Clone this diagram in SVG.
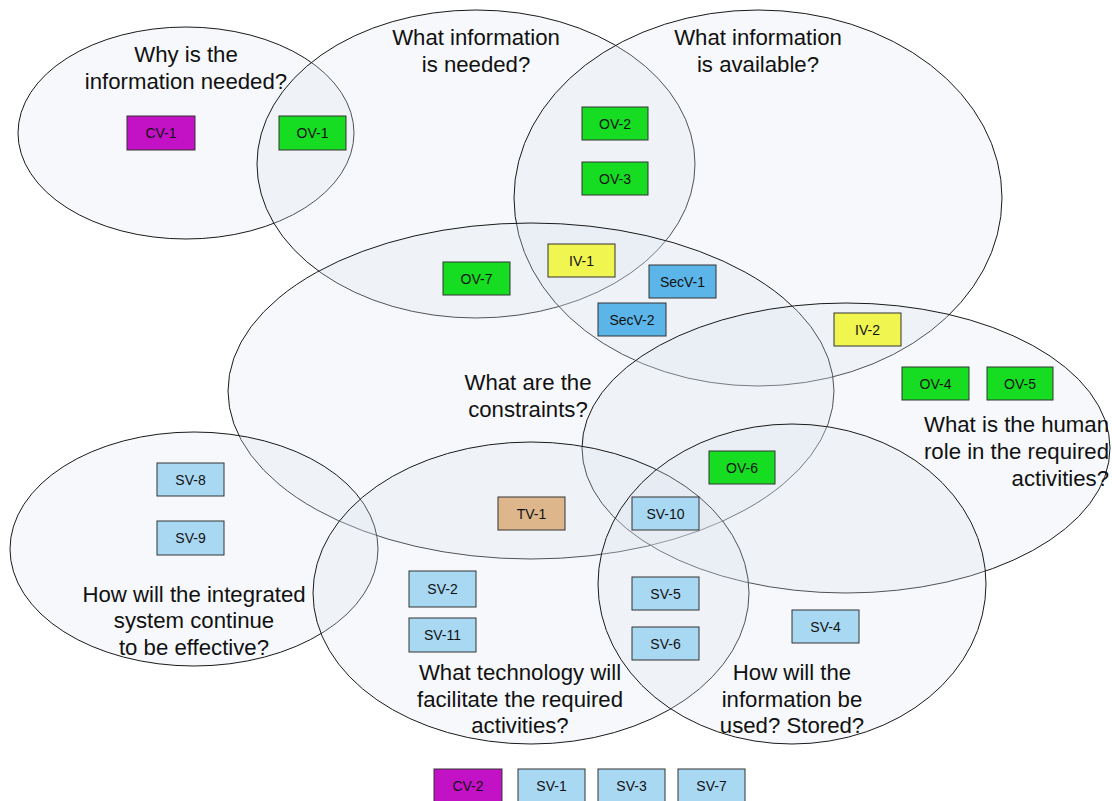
<svg xmlns="http://www.w3.org/2000/svg" width="1112" height="801" viewBox="0 0 1112 801">
<style>
.el{fill:#dfe5f2;fill-opacity:0.28;stroke:#1a1a1a;stroke-width:1}
.q{font-family:"Liberation Sans",Arial,sans-serif;font-size:22.2px;fill:#111;text-anchor:middle}
.qr{text-anchor:end}
.b rect{stroke:#333;stroke-width:1}
.b text{font-family:"Liberation Sans",Arial,sans-serif;font-size:14px;fill:#111;text-anchor:middle}
.cv{fill:#c312c6}
.ov{fill:#16dc22}
.iv{fill:#f0f550}
.sec{fill:#5cb5e8}
.sv{fill:#a9d8f2}
.tv{fill:#ddb68c}
</style>
<rect width="1112" height="801" fill="#fff"/>
<g id="sets">
<ellipse class="el" cx="186" cy="133" rx="168" ry="106"/>
<ellipse class="el" cx="476" cy="164" rx="219" ry="154"/>
<ellipse class="el" cx="758" cy="198" rx="244" ry="188"/>
<ellipse class="el" cx="531" cy="391" rx="303" ry="168"/>
<ellipse class="el" cx="846" cy="448" rx="264" ry="145"/>
<ellipse class="el" cx="194" cy="549" rx="184" ry="117"/>
<ellipse class="el" cx="531" cy="593" rx="218" ry="151"/>
<ellipse class="el" cx="792" cy="584" rx="194" ry="160"/>
</g>
<g id="labels">
<text class="q" x="186" y="62">Why is the</text>
<text class="q" x="186" y="89">information needed?</text>
<text class="q" x="476" y="45">What information</text>
<text class="q" x="476" y="72">is needed?</text>
<text class="q" x="758" y="45">What information</text>
<text class="q" x="758" y="72">is available?</text>
<text class="q" x="528" y="390">What are the</text>
<text class="q" x="528" y="417">constraints?</text>
<text class="q qr" x="1109" y="432">What is the human</text>
<text class="q qr" x="1109" y="459">role in the required</text>
<text class="q qr" x="1109" y="486">activities?</text>
<text class="q" x="194" y="602">How will the integrated</text>
<text class="q" x="194" y="628">system continue</text>
<text class="q" x="194" y="655">to be effective?</text>
<text class="q" x="520" y="680">What technology will</text>
<text class="q" x="520" y="707">facilitate the required</text>
<text class="q" x="520" y="733">activities?</text>
<text class="q" x="792" y="680">How will the</text>
<text class="q" x="792" y="707">information be</text>
<text class="q" x="792" y="733">used? Stored?</text>
</g>
<g id="cv1" class="b"><rect class="cv" x="127" y="116" width="68" height="34"/><text x="161" y="138">CV-1</text></g>
<g id="ov1" class="b"><rect class="ov" x="279" y="116" width="67" height="34"/><text x="312.5" y="138">OV-1</text></g>
<g id="ov2" class="b"><rect class="ov" x="582" y="107" width="66" height="33"/><text x="615" y="128.5">OV-2</text></g>
<g id="ov3" class="b"><rect class="ov" x="582" y="162" width="66" height="33"/><text x="615" y="183.5">OV-3</text></g>
<g id="iv1" class="b"><rect class="iv" x="548" y="244" width="67" height="33"/><text x="581.5" y="265.5">IV-1</text></g>
<g id="ov7" class="b"><rect class="ov" x="443" y="262" width="67" height="33"/><text x="476.5" y="283.5">OV-7</text></g>
<g id="secv1" class="b"><rect class="sec" x="649" y="265" width="67" height="33"/><text x="682.5" y="286.5">SecV-1</text></g>
<g id="secv2" class="b"><rect class="sec" x="598" y="303" width="68" height="33"/><text x="632" y="324.5">SecV-2</text></g>
<g id="iv2" class="b"><rect class="iv" x="834" y="313" width="67" height="33"/><text x="867.5" y="334.5">IV-2</text></g>
<g id="ov4" class="b"><rect class="ov" x="902" y="367" width="67" height="33"/><text x="935.5" y="388.5">OV-4</text></g>
<g id="ov5" class="b"><rect class="ov" x="987" y="367" width="66" height="33"/><text x="1020" y="388.5">OV-5</text></g>
<g id="ov6" class="b"><rect class="ov" x="709" y="451" width="66" height="33"/><text x="742" y="472.5">OV-6</text></g>
<g id="sv8" class="b"><rect class="sv" x="157" y="463" width="67" height="33"/><text x="190.5" y="484.5">SV-8</text></g>
<g id="sv9" class="b"><rect class="sv" x="157" y="521" width="67" height="34"/><text x="190.5" y="543">SV-9</text></g>
<g id="tv1" class="b"><rect class="tv" x="498" y="497" width="67" height="33"/><text x="531.5" y="518.5" fill="#333">TV-1</text></g>
<g id="sv10" class="b"><rect class="sv" x="632" y="497" width="67" height="33"/><text x="665.5" y="518.5">SV-10</text></g>
<g id="sv2" class="b"><rect class="sv" x="409" y="571" width="67" height="36"/><text x="442.5" y="594">SV-2</text></g>
<g id="sv11" class="b"><rect class="sv" x="409" y="618" width="67" height="34"/><text x="442.5" y="640">SV-11</text></g>
<g id="sv5" class="b"><rect class="sv" x="632" y="577" width="67" height="33"/><text x="665.5" y="598.5">SV-5</text></g>
<g id="sv6" class="b"><rect class="sv" x="632" y="627" width="67" height="33"/><text x="665.5" y="648.5">SV-6</text></g>
<g id="sv4" class="b"><rect class="sv" x="792" y="610" width="67" height="33"/><text x="825.5" y="631.5">SV-4</text></g>
<g id="cv2" class="b"><rect class="cv" x="434" y="769" width="68" height="34"/><text x="468" y="791">CV-2</text></g>
<g id="sv1" class="b"><rect class="sv" x="518" y="769" width="67" height="34"/><text x="551.5" y="791">SV-1</text></g>
<g id="sv3" class="b"><rect class="sv" x="598" y="769" width="67" height="34"/><text x="631.5" y="791">SV-3</text></g>
<g id="sv7" class="b"><rect class="sv" x="678" y="769" width="67" height="34"/><text x="711.5" y="791">SV-7</text></g>
<g id="connectors"></g>
</svg>
